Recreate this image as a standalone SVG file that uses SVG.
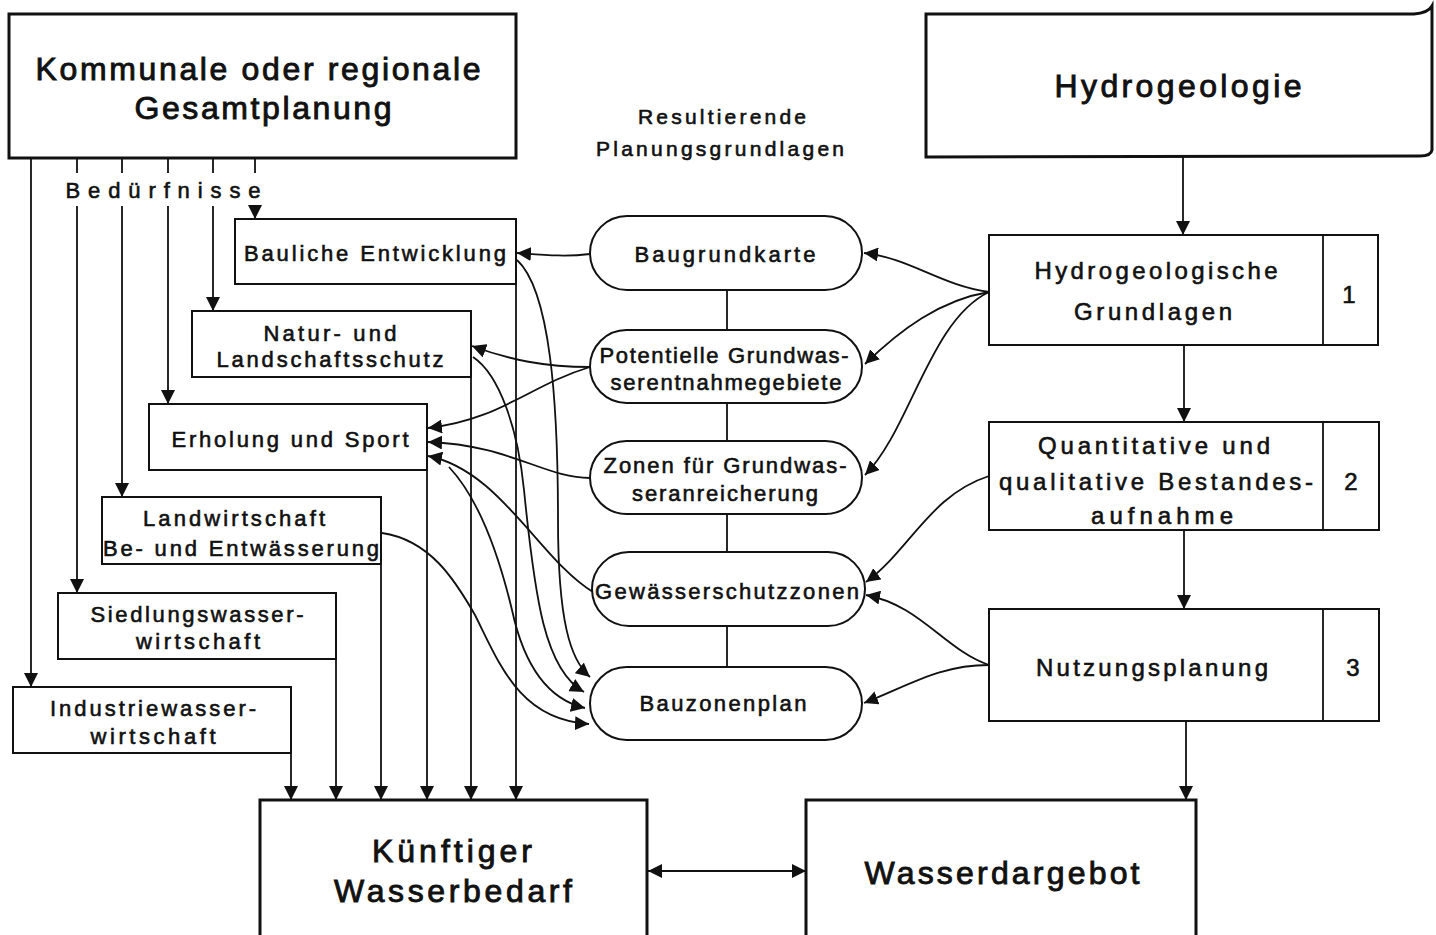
<svg xmlns="http://www.w3.org/2000/svg" width="1436" height="935" viewBox="0 0 1436 935">
<style>
  .box{fill:#fff;stroke:#111;stroke-width:2}
  .big{fill:#fff;stroke:#111;stroke-width:3}
  .pill{fill:#fff;stroke:#111;stroke-width:2}
  .ln{fill:none;stroke:#111;stroke-width:1.8}
  text{font-family:"Liberation Sans","DejaVu Sans",sans-serif;fill:#111;stroke:#111;stroke-width:0.6;text-anchor:middle}
  .t32{font-size:32px;stroke-width:0.9}
  .t24{font-size:24px}
  .t22{font-size:22px}
  .t21{font-size:21px}
</style>
<defs>
  <marker id="ah" viewBox="0 0 14 14" refX="14" refY="7" markerWidth="14" markerHeight="14" markerUnits="userSpaceOnUse" orient="auto-start-reverse">
    <path d="M0,0 L14,7 L0,14 Z" fill="#111"/>
  </marker>
</defs>
<rect width="1436" height="935" fill="#fff"/>

<g id="connectors">
  <!-- Bedürfnisse lines -->
  <path class="ln" d="M31,158 V687" marker-end="url(#ah)"/>
  <path class="ln" d="M77,158 V173 M77,206 V593" marker-end="url(#ah)"/>
  <path class="ln" d="M122,158 V173 M122,206 V497" marker-end="url(#ah)"/>
  <path class="ln" d="M168,158 V173 M168,206 V404" marker-end="url(#ah)"/>
  <path class="ln" d="M213,158 V173 M213,206 V311" marker-end="url(#ah)"/>
  <path class="ln" d="M255,158 V173 M255,206 V219" marker-end="url(#ah)"/>
  <!-- down to Künftiger Wasserbedarf -->
  <path class="ln" d="M291,753 V800" marker-end="url(#ah)"/>
  <path class="ln" d="M336,659 V800" marker-end="url(#ah)"/>
  <path class="ln" d="M381,564 V800" marker-end="url(#ah)"/>
  <path class="ln" d="M427,470 V800" marker-end="url(#ah)"/>
  <path class="ln" d="M471,377 V800" marker-end="url(#ah)"/>
  <path class="ln" d="M516,284 V800" marker-end="url(#ah)"/>
  <!-- double arrow -->
  <path class="ln" d="M648,871 H806" marker-start="url(#ah)" marker-end="url(#ah)"/>
  <!-- right column -->
  <path class="ln" d="M1183,157 V235" marker-end="url(#ah)"/>
  <path class="ln" d="M1184,345 V422" marker-end="url(#ah)"/>
  <path class="ln" d="M1184,530 V609" marker-end="url(#ah)"/>
  <path class="ln" d="M1186,721 V800" marker-end="url(#ah)"/>
  <!-- pill chain -->
  <path class="ln" d="M727,290 V330 M727,403 V441 M727,514 V552 M727,626 V667"/>
  <!-- Hydrogeologische Grundlagen to pills -->
  <path class="ln" d="M989,292 C940,285 910,258 864,253" marker-end="url(#ah)"/>
  <path class="ln" d="M989,292 C940,300 900,330 865,364" marker-end="url(#ah)"/>
  <path class="ln" d="M989,292 C930,320 910,430 865,475" marker-end="url(#ah)"/>
  <path class="ln" d="M989,476 C930,495 910,550 866,582" marker-end="url(#ah)"/>
  <path class="ln" d="M989,665 C945,650 920,605 866,595" marker-end="url(#ah)"/>
  <path class="ln" d="M989,665 C940,665 910,685 864,703" marker-end="url(#ah)"/>
  <!-- pills to left boxes -->
  <path class="ln" d="M590,254 C565,257 545,255 517,253" marker-end="url(#ah)"/>
  <path class="ln" d="M590,367 C545,367 510,360 472,346" marker-end="url(#ah)"/>
  <path class="ln" d="M590,367 C530,385 500,420 428,428" marker-end="url(#ah)"/>
  <path class="ln" d="M590,478 C545,478 510,445 428,442" marker-end="url(#ah)"/>
  <path class="ln" d="M593,592 C540,560 500,470 428,456" marker-end="url(#ah)"/>
  <!-- to Bauzonenplan -->
  <path class="ln" d="M517,260 C550,290 558,400 558,520 C558,620 570,660 590,677" marker-end="url(#ah)"/>
  <path class="ln" d="M473,357 C500,375 518,430 524,490 C535,600 545,670 584,692" marker-end="url(#ah)"/>
  <path class="ln" d="M449,467 C480,500 500,560 512,610 C525,670 550,700 585,708" marker-end="url(#ah)"/>
  <path class="ln" d="M382,533 C430,540 455,580 475,615 C500,665 520,720 589,724" marker-end="url(#ah)"/>
</g>

<g id="gesamtplanung">
  <rect class="big" x="9" y="14" width="507" height="144"/>
  <text class="t32" x="258" y="80" textLength="445" lengthAdjust="spacing">Kommunale oder regionale</text>
  <text class="t32" x="263" y="119" textLength="257" lengthAdjust="spacing">Gesamtplanung</text>
</g>
<g id="beduerfnisse">
  <text class="t22" x="163" y="198" textLength="195" lengthAdjust="spacing">Bedürfnisse</text>
</g>
<g id="bauliche">
  <rect class="box" x="235" y="219" width="281" height="65"/>
  <text class="t22" x="375" y="261" textLength="262" lengthAdjust="spacing">Bauliche Entwicklung</text>
</g>
<g id="natur">
  <rect class="box" x="192" y="311" width="279" height="66"/>
  <text class="t22" x="330" y="341" textLength="133" lengthAdjust="spacing">Natur- und</text>
  <text class="t22" x="330" y="367" textLength="227" lengthAdjust="spacing">Landschaftsschutz</text>
</g>
<g id="erholung">
  <rect class="box" x="149" y="404" width="278" height="66"/>
  <text class="t22" x="290" y="447" textLength="237" lengthAdjust="spacing">Erholung und Sport</text>
</g>
<g id="landwirtschaft">
  <rect class="box" x="102" y="497" width="279" height="67"/>
  <text class="t22" x="234" y="526" textLength="182" lengthAdjust="spacing">Landwirtschaft</text>
  <text class="t22" x="241" y="556" textLength="276" lengthAdjust="spacing">Be- und Entwässerung</text>
</g>
<g id="siedlung">
  <rect class="box" x="58" y="593" width="278" height="66"/>
  <text class="t22" x="197" y="622" textLength="213" lengthAdjust="spacing">Siedlungswasser-</text>
  <text class="t22" x="198" y="649" textLength="124" lengthAdjust="spacing">wirtschaft</text>
</g>
<g id="industrie">
  <rect class="box" x="13" y="687" width="278" height="66"/>
  <text class="t22" x="153" y="716" textLength="206" lengthAdjust="spacing">Industriewasser-</text>
  <text class="t22" x="153" y="744" textLength="125" lengthAdjust="spacing">wirtschaft</text>
</g>
<g id="kuenftiger">
  <rect class="big" x="260" y="800" width="387" height="150"/>
  <text class="t32" x="452" y="862" textLength="160" lengthAdjust="spacing">Künftiger</text>
  <text class="t32" x="453" y="902" textLength="238" lengthAdjust="spacing">Wasserbedarf</text>
</g>
<g id="wasserdargebot">
  <rect class="big" x="806" y="800" width="390" height="150"/>
  <text class="t32" x="1002" y="884" textLength="275" lengthAdjust="spacing">Wasserdargebot</text>
</g>
<g id="hydrogeologie">
  <path class="big" d="M926,14 L1414,14 Q1428,13 1432,6 L1432,150 Q1431,156 1420,156 L926,157 Z"/>
  <text class="t32" x="1178" y="97" textLength="247" lengthAdjust="spacing">Hydrogeologie</text>
</g>
<g id="grundlagen">
  <rect class="box" x="989" y="235" width="389" height="110"/>
  <line class="ln" x1="1323" y1="235" x2="1323" y2="345"/>
  <text class="t24" x="1156" y="279" textLength="243" lengthAdjust="spacing">Hydrogeologische</text>
  <text class="t24" x="1153" y="320" textLength="158" lengthAdjust="spacing">Grundlagen</text>
  <text class="t24" x="1349" y="303">1</text>
</g>
<g id="bestandesaufnahme">
  <rect class="box" x="989" y="422" width="390" height="108"/>
  <line class="ln" x1="1323" y1="422" x2="1323" y2="530"/>
  <text class="t24" x="1154" y="454" textLength="232" lengthAdjust="spacing">Quantitative und</text>
  <text class="t24" x="1156" y="490" textLength="314" lengthAdjust="spacing">qualitative Bestandes-</text>
  <text class="t24" x="1162" y="524" textLength="142" lengthAdjust="spacing">aufnahme</text>
  <text class="t24" x="1351" y="490">2</text>
</g>
<g id="nutzungsplanung">
  <rect class="box" x="989" y="609" width="390" height="112"/>
  <line class="ln" x1="1323" y1="609" x2="1323" y2="721"/>
  <text class="t24" x="1152" y="676" textLength="232" lengthAdjust="spacing">Nutzungsplanung</text>
  <text class="t24" x="1353" y="676">3</text>
</g>
<g id="resultierende">
  <text class="t21" x="722" y="124" textLength="168" lengthAdjust="spacing">Resultierende</text>
  <text class="t21" x="720" y="156" textLength="248" lengthAdjust="spacing">Planungsgrundlagen</text>
</g>
<g id="baugrundkarte">
  <rect class="pill" x="590" y="216" width="272" height="74" rx="37"/>
  <text class="t22" x="725" y="262" textLength="181" lengthAdjust="spacing">Baugrundkarte</text>
</g>
<g id="potentielle">
  <rect class="pill" x="590" y="330" width="272" height="73" rx="36.5"/>
  <text class="t22" x="724" y="363" textLength="249" lengthAdjust="spacing">Potentielle Grundwas-</text>
  <text class="t22" x="726" y="390" textLength="231" lengthAdjust="spacing">serentnahmegebiete</text>
</g>
<g id="zonen">
  <rect class="pill" x="590" y="441" width="272" height="73" rx="36.5"/>
  <text class="t22" x="725" y="473" textLength="243" lengthAdjust="spacing">Zonen für Grundwas-</text>
  <text class="t22" x="725" y="501" textLength="186" lengthAdjust="spacing">seranreicherung</text>
</g>
<g id="gewaesserschutzzonen">
  <rect class="pill" x="592" y="552" width="273" height="74" rx="37"/>
  <text class="t22" x="727" y="599" textLength="264" lengthAdjust="spacing">Gewässerschutzzonen</text>
</g>
<g id="bauzonenplan">
  <rect class="pill" x="590" y="667" width="272" height="73" rx="36.5" stroke-width="3"/>
  <text class="t22" x="723" y="711" textLength="167" lengthAdjust="spacing">Bauzonenplan</text>
</g>
</svg>
